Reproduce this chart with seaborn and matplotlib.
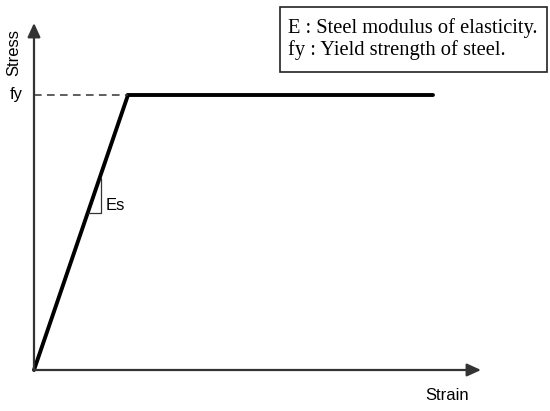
import matplotlib
matplotlib.use("Agg")
import matplotlib.pyplot as plt
from matplotlib.patches import Rectangle
import seaborn as sns
import pandas as pd

# Data (arbitrary units)
strain = [0, 94, 399]
stress = [0, 275, 275]
fy = 275
eps_y = 94
slope_tri_x = [54, 67, 67]
slope_tri_y = [157, 157, 192]
legend_lines = ["E : Steel modulus of elasticity.", "fy : Yield strength of steel."]

sns.set_theme(style="white")
plt.rcParams['font.family'] = ['Liberation Sans', 'DejaVu Sans']

fig = plt.figure(figsize=(5.5, 4.11), dpi=100)
ax = fig.add_axes([0, 0, 1, 1])
ax.set_xlim(-34, 516)
ax.set_ylim(-41, 370)
ax.axis('off')

df = pd.DataFrame({"Strain": strain, "Stress": stress})
sns.lineplot(data=df, x="Strain", y="Stress", ax=ax, color="black", lw=2.8,
             sort=False, estimator=None, solid_joinstyle='miter')

# dashed yield line
ax.plot([0, eps_y], [fy, fy], color="#333333", lw=1.1, ls=(0, (5, 3.5)))

# slope triangle
ax.plot(slope_tri_x, slope_tri_y, color="#333333", lw=0.9)
ax.text(72, 165, "Es", fontsize=12, color="black", va="center", ha="left")

# axes with arrows
ax.annotate("", xy=(447, 0), xytext=(0, 0),
            arrowprops=dict(arrowstyle="-|>,head_length=0.7,head_width=0.32",
                            color="#333333", lw=1.6, shrinkA=0, shrinkB=0))
ax.annotate("", xy=(0, 347), xytext=(0, 0),
            arrowprops=dict(arrowstyle="-|>,head_length=0.7,head_width=0.32",
                            color="#333333", lw=1.6, shrinkA=0, shrinkB=0))

ax.text(-20, 317, "Stress", rotation=90, fontsize=12, ha="center", va="center", color="black")
ax.text(-18, fy, "fy", fontsize=12, ha="center", va="center", color="black")
ax.text(413, -25, "Strain", fontsize=12, ha="center", va="center", color="black")

# legend box
ax.add_patch(Rectangle((246, 298), 267, 65, fc="white", ec="#222222", lw=1.2))
for i, line in enumerate(legend_lines):
    ax.text(254, 342 - 22 * i, line, fontsize=14.8, family="Liberation Serif",
            ha="left", va="center", color="black")

fig.savefig("out.png", dpi=100)
